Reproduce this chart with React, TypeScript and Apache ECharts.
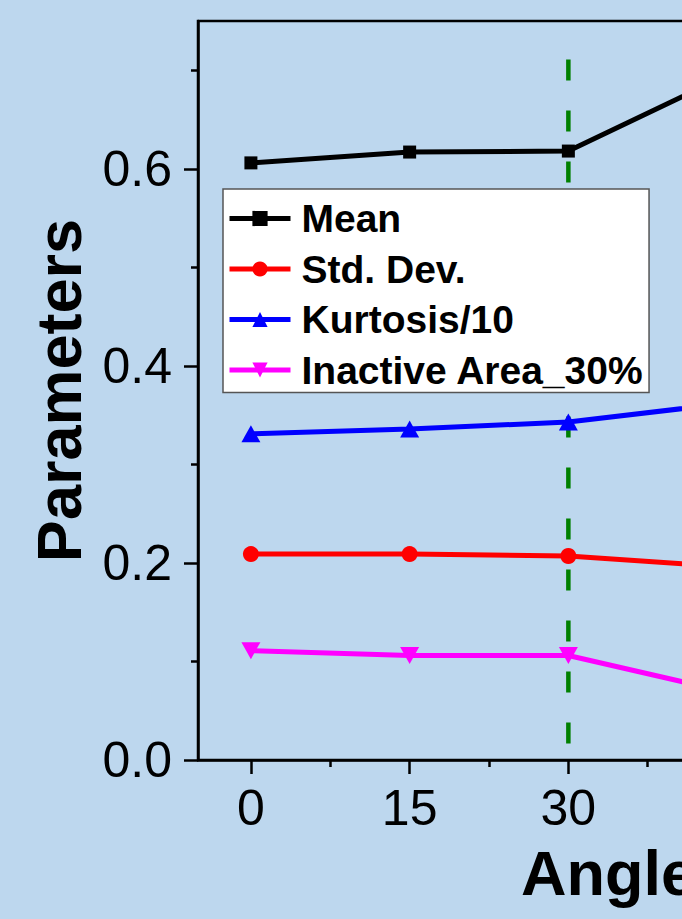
import React, { useEffect, useRef } from "react";
import * as echarts from "echarts";

// Measured statistics per incidence angle
const angles = [0, 15, 30, 45];
const meanValues = [0.606, 0.617, 0.618, 0.695];
const stdDevValues = [0.209, 0.209, 0.207, 0.196];
const kurtosisValues = [0.331, 0.336, 0.343, 0.362];
const inactiveValues = [0.111, 0.106, 0.106, 0.069];
const seriesNames = ["Mean", "Std. Dev.", "Kurtosis/10", "Inactive Area_30%"];

// Axis ticks and labels
const xMajorTicks = [0, 15, 30, 45];
const xLabelValues = [0, 15, 30];
const xMinorTicks = [7.5, 22.5, 37.5];
const yMajorTicks = [0, 0.2, 0.4, 0.6];
const yMinorTicks = [0.1, 0.3, 0.5, 0.7];

// Threshold marker (vertical dashed line)
const markerAngle = 30;
const markerRange = [0.711, 0];

const FONT = "'Liberation Sans', Arial, Helvetica, sans-serif";
const BG = "#bdd7ee";

function lineSeries(
  name: string,
  values: number[],
  color: string,
  symbol: string,
  symbolSize: number | number[],
  symbolRotate = 0
) {
  return {
    type: "line",
    name,
    data: angles.map((a, i) => [a, values[i]]),
    symbol,
    symbolSize,
    symbolRotate,
    itemStyle: { color },
    lineStyle: { color, width: 5 },
    z: 3,
  };
}

export default function App() {
  const ref = useRef<HTMLDivElement>(null);

  useEffect(() => {
    if (!ref.current) return;
    const chart = echarts.init(ref.current, undefined, { renderer: "svg" });
    const axisLine = { show: true, onZero: false, lineStyle: { color: "#000", width: 2.5 } };
    const hiddenLine = { show: false, onZero: false };
    const tickLine = { color: "#000", width: 2.5 };
    const labelStyle = { fontFamily: FONT, fontSize: 50, color: "#000" };

    chart.setOption({
      animation: false,
      backgroundColor: BG,
      grid: {
        left: 198,
        top: 21,
        width: 582,
        height: 739,
        show: true,
        borderColor: "#000",
        borderWidth: 2.5,
        backgroundColor: "transparent",
      },
      legend: {
        data: seriesNames,
        orient: "vertical",
        left: 223,
        top: 189,
        backgroundColor: "#fff",
        borderColor: "#555",
        borderWidth: 1.5,
        padding: [10, 5, 3, 4],
        itemWidth: 61,
        itemHeight: 19,
        itemGap: 11.5,
        selectedMode: false,
        lineStyle: { width: 5 },
        textStyle: {
          fontFamily: FONT,
          fontWeight: "bold",
          fontSize: 39,
          color: "#000",
          padding: [0, 0, 0, 6],
        },
      },
      xAxis: [
        {
          type: "value",
          min: -5,
          max: 50,
          position: "bottom",
          axisLine,
          axisTick: { show: true, length: 14, lineStyle: tickLine, customValues: xMajorTicks },
          axisLabel: { ...labelStyle, margin: 23, customValues: xLabelValues },
          splitLine: { show: false },
        },
        {
          type: "value",
          min: -5,
          max: 50,
          position: "bottom",
          axisLine: hiddenLine,
          axisTick: { show: true, length: 7, lineStyle: tickLine, customValues: xMinorTicks },
          axisLabel: { show: false },
          splitLine: { show: false },
        },
      ],
      yAxis: [
        {
          type: "value",
          min: 0,
          max: 0.75,
          position: "left",
          axisLine,
          axisTick: { show: true, length: 14, lineStyle: tickLine, customValues: yMajorTicks },
          axisLabel: {
            ...labelStyle,
            margin: 26,
            customValues: yMajorTicks,
            formatter: (v: number) => v.toFixed(1),
          },
          splitLine: { show: false },
          name: "Parameters",
          nameLocation: "middle",
          nameGap: 108,
          nameTextStyle: { fontFamily: FONT, fontWeight: "bold", fontSize: 63, color: "#000" },
        },
        {
          type: "value",
          min: 0,
          max: 0.75,
          position: "left",
          axisLine: hiddenLine,
          axisTick: { show: true, length: 7, lineStyle: tickLine, customValues: yMinorTicks },
          axisLabel: { show: false },
          splitLine: { show: false },
        },
      ],
      graphic: [
        {
          type: "text",
          left: 521,
          top: 841,
          style: {
            text: "Angle (°)",
            fontFamily: FONT,
            fontWeight: "bold",
            fontSize: 63,
            fill: "#000",
          },
        },
      ],
      series: [
        {
          type: "line",
          name: "threshold",
          data: markerRange.map((v) => [markerAngle, v]),
          symbol: "none",
          lineStyle: { color: "#008000", width: 4.5, type: [21, 30] },
          z: 1,
          silent: true,
        },
        lineSeries(seriesNames[0], meanValues, "#000000", "rect", 13),
        lineSeries(seriesNames[1], stdDevValues, "#ff0000", "circle", 16),
        lineSeries(seriesNames[2], kurtosisValues, "#0000ff", "triangle", [19, 17]),
        lineSeries(seriesNames[3], inactiveValues, "#ff00ff", "triangle", [19, 17], 180),
      ],
    });
    return () => chart.dispose();
  }, []);

  return (
    <div
      style={{
        position: "fixed",
        left: 0,
        top: 0,
        width: 682,
        height: 919,
        overflow: "hidden",
        background: BG,
      }}
    >
      <div ref={ref} style={{ width: 900, height: 919 }} />
    </div>
  );
}
